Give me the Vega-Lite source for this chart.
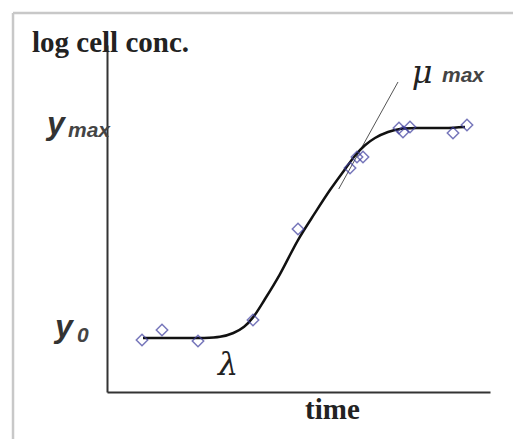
{
  "$schema": "https://vega.github.io/schema/vega-lite/v6.json",
  "width": 383,
  "height": 347,
  "autosize": "none",
  "padding": {"left": 107, "right": 23, "top": 45, "bottom": 47},
  "background": "white",
  "config": {"view": {"stroke": null}},
  "datasets": {
    "frame": [
      {"x": -2.454, "y": 10.922, "x2": -2.454, "y2": -1.4},
      {"x": -2.454, "y": 10.922, "x2": 10.7, "y2": 10.922}
    ],
    "tangent": [{"x": 6.05, "y": 5.85, "x2": 7.598, "y2": 8.934}],
    "curve": [
      {"t": 0.940, "c": 1.556}, {"t": 1.645, "c": 1.556}, {"t": 2.428, "c": 1.556},
      {"t": 2.950, "c": 1.590}, {"t": 3.300, "c": 1.700}, {"t": 3.580, "c": 1.880},
      {"t": 3.812, "c": 2.150}, {"t": 4.125, "c": 2.680}, {"t": 4.517, "c": 3.400},
      {"t": 4.987, "c": 4.380}, {"t": 5.431, "c": 5.160}, {"t": 5.822, "c": 5.820},
      {"t": 6.214, "c": 6.420}, {"t": 6.475, "c": 6.810}, {"t": 6.736, "c": 7.110},
      {"t": 6.997, "c": 7.320}, {"t": 7.337, "c": 7.493}, {"t": 7.650, "c": 7.579},
      {"t": 8.172, "c": 7.608}, {"t": 8.825, "c": 7.608}, {"t": 9.347, "c": 7.637}
    ],
    "obs": [
      {"t": 0.914, "c": 1.499}, {"t": 1.436, "c": 1.787}, {"t": 2.376, "c": 1.470},
      {"t": 3.812, "c": 2.075}, {"t": 4.987, "c": 4.697}, {"t": 6.345, "c": 6.455},
      {"t": 6.527, "c": 6.772}, {"t": 6.684, "c": 6.772}, {"t": 7.624, "c": 7.608},
      {"t": 7.728, "c": 7.493}, {"t": 7.911, "c": 7.637}, {"t": 9.034, "c": 7.464},
      {"t": 9.399, "c": 7.695}
    ],
    "serifBold": [
      {"label": "log cell conc.", "x": -1.958, "y": 9.798},
      {"label": "time", "x": 5.17, "y": -0.778}
    ],
    "bigY": [
      {"label": "y", "x": -1.567, "y": 7.435},
      {"label": "y", "x": -1.358, "y": 1.585}
    ],
    "subs": [
      {"label": "max", "x": -1.018, "y": 7.349},
      {"label": "0", "x": -0.783, "y": 1.441},
      {"label": "max", "x": 8.747, "y": 8.934}
    ],
    "greek": [
      {"label": "μ", "x": 7.96, "y": 8.905},
      {"label": "λ", "x": 2.9, "y": 0.49}
    ]
  },
  "layer": [
    {
      "data": {"name": "frame"},
      "mark": {"type": "rule", "color": "#c8c8c8", "strokeWidth": 2.5},
      "encoding": {
        "x": {"field": "x", "type": "quantitative", "scale": {"domain": [0, 10], "nice": false, "zero": false},
              "axis": {"domain": true, "ticks": false, "labels": false, "grid": false, "title": null, "domainColor": "#333", "domainWidth": 2}},
        "y": {"field": "y", "type": "quantitative", "scale": {"domain": [0, 10], "nice": false, "zero": false},
              "axis": {"domain": true, "ticks": false, "labels": false, "grid": false, "title": null, "domainColor": "#333", "domainWidth": 2}},
        "x2": {"field": "x2"},
        "y2": {"field": "y2"}
      }
    },
    {
      "data": {"name": "tangent"},
      "mark": {"type": "rule", "color": "#555", "strokeWidth": 1},
      "encoding": {
        "x": {"field": "x", "type": "quantitative"},
        "y": {"field": "y", "type": "quantitative"},
        "x2": {"field": "x2"},
        "y2": {"field": "y2"}
      }
    },
    {
      "data": {"name": "curve"},
      "mark": {"type": "line", "color": "#111", "strokeWidth": 2.5, "interpolate": "catmull-rom"},
      "encoding": {
        "x": {"field": "t", "type": "quantitative"},
        "y": {"field": "c", "type": "quantitative"}
      }
    },
    {
      "data": {"name": "obs"},
      "mark": {"type": "point", "shape": "diamond", "filled": false, "stroke": "#3d3d9e", "strokeWidth": 1.5, "size": 130},
      "encoding": {
        "x": {"field": "t", "type": "quantitative"},
        "y": {"field": "c", "type": "quantitative"}
      }
    },
    {
      "data": {"name": "serifBold"},
      "mark": {"type": "text", "font": "Liberation Serif", "fontWeight": "bold", "fontSize": 29, "align": "left", "baseline": "alphabetic", "color": "#222"},
      "encoding": {
        "x": {"field": "x", "type": "quantitative"},
        "y": {"field": "y", "type": "quantitative"},
        "text": {"field": "label"}
      }
    },
    {
      "data": {"name": "bigY"},
      "mark": {"type": "text", "font": "Liberation Sans", "fontWeight": "bold", "fontStyle": "italic", "fontSize": 32, "align": "left", "baseline": "alphabetic", "color": "#333"},
      "encoding": {
        "x": {"field": "x", "type": "quantitative"},
        "y": {"field": "y", "type": "quantitative"},
        "text": {"field": "label"}
      }
    },
    {
      "data": {"name": "subs"},
      "mark": {"type": "text", "font": "Liberation Sans", "fontWeight": "bold", "fontStyle": "italic", "fontSize": 21, "align": "left", "baseline": "alphabetic", "color": "#444"},
      "encoding": {
        "x": {"field": "x", "type": "quantitative"},
        "y": {"field": "y", "type": "quantitative"},
        "text": {"field": "label"}
      }
    },
    {
      "data": {"name": "greek"},
      "mark": {"type": "text", "font": "DejaVu Serif", "fontStyle": "italic", "fontSize": 32, "align": "left", "baseline": "alphabetic", "color": "#222"},
      "encoding": {
        "x": {"field": "x", "type": "quantitative"},
        "y": {"field": "y", "type": "quantitative"},
        "text": {"field": "label"}
      }
    }
  ]
}
